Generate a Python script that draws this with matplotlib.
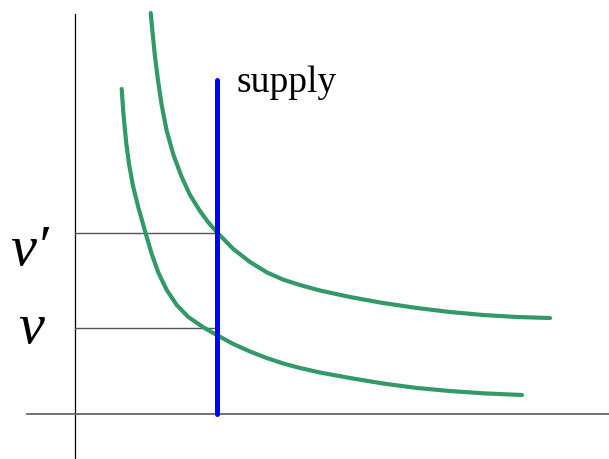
import matplotlib
matplotlib.use("Agg")
import matplotlib.pyplot as plt

# demand curves (quantity, price), origin at axis crossing
upper_q = [75.7, 77.5, 79.8, 82.8, 86.5, 91.5, 98.3, 106.7, 115, 125, 133, 141.7, 158.3,
           175, 191.7, 208.3, 225, 245, 275, 308, 342, 375, 408, 442, 475]
upper_p = [400.5, 381.5, 358.5, 334.5, 309.5, 283.5, 259, 236.5, 218.5, 202.5, 191.5, 181.5,
           164.5, 151.5, 141.2, 133.8, 128.5, 123, 116.5, 110.5, 105.5, 101.5, 98.5, 96.5, 95.5]
lower_q = [46.7, 48.3, 51, 54, 58, 63.5, 70, 76.7, 83.3, 91.7, 101.7, 113.3, 128.3,
           141.7, 158.3, 175, 191.7, 208.3, 225, 245, 275, 308, 342, 375, 408, 447]
lower_p = [324.5, 301.5, 272.5, 249.5, 227.5, 205.5, 182.5, 159.5, 141, 123.5, 108.5, 96.5,
           86.2, 78.5, 69.5, 62, 55.5, 50, 45.5, 41, 35.5, 30, 25.5, 22.5, 20.2, 18.5]

supply_q = 142.3
supply_top = 334
price_levels = [180.5, 85.5]
price_labels = ["v\u2032", "v"]

green = "#339966"
serif = ["Liberation Serif", "DejaVu Serif"]

fig = plt.figure(figsize=(6.09, 4.60), dpi=100)
ax = fig.add_axes([0, 0, 1, 1])
ax.set_xlim(-75, 534)
ax.set_ylim(-45.5, 414.5)
ax.axis("off")

# axes
ax.plot([0, 0], [-46, 400], color="black", lw=0.9)
ax.plot([-48, 534], [0, 0], color="#666666", lw=1.3)

# price guide lines
for p in price_levels:
    ax.plot([0, supply_q], [p, p], color="#555555", lw=1.0)

for q, p in [(upper_q, upper_p), (lower_q, lower_p)]:
    ax.plot(q, p, color=green, lw=3.0, solid_capstyle="round", solid_joinstyle="round")

ax.plot([supply_q, supply_q], [0, supply_top], color="#0000ff", lw=3.6, solid_capstyle="round")
ax.text(supply_q + 19, 322.5, "supply", fontsize=27, family=serif, ha="left", va="baseline")

ax.text(-65, price_levels[0] - 31, price_labels[0], fontsize=42, style="italic",
        family=serif, ha="left", va="baseline")
ax.text(-57, price_levels[1] - 14, price_labels[1], fontsize=42, style="italic",
        family=serif, ha="left", va="baseline")

fig.savefig("out.png", dpi=100)
